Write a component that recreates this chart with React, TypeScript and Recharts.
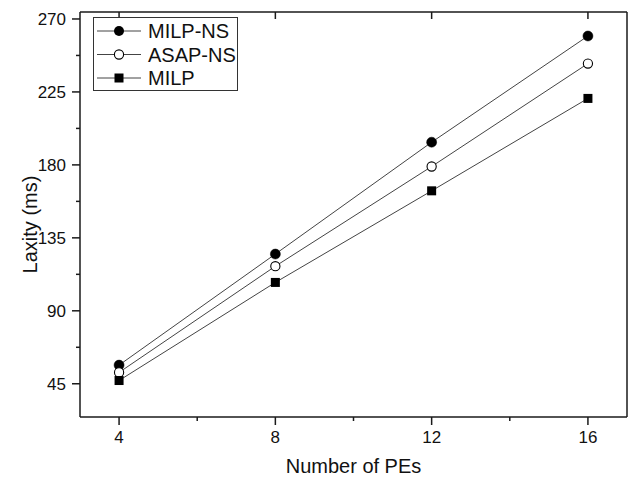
import React from "react";
import { LineChart, Line, XAxis, YAxis, Legend, Label } from "recharts";

const pes = [4, 8, 12, 16];
const milpNs = [56.5, 125, 194, 259.5];
const asapNs = [52, 117.5, 179, 242.5];
const milp = [47, 107.5, 164, 221];

const xTicks = [4, 6, 8, 10, 12, 14, 16];
const yTicks = [45, 67.5, 90, 112.5, 135, 157.5, 180, 202.5, 225, 247.5, 270];

const FONT = "Liberation Sans, Arial, sans-serif";
const AXIS = "#1a1a1a";
const TICK_SIZE = 8;
const TICK_MARGIN = 6;

const data = pes.map((pe, i) => ({
  pe,
  milpNs: milpNs[i],
  asapNs: asapNs[i],
  milp: milp[i],
}));

const YTick = (props: any) => {
  const { x, y, payload } = props;
  const axisX = x + TICK_SIZE + TICK_MARGIN;
  const major = payload.value % 45 === 0;
  return (
    <g>
      <line x1={axisX} x2={axisX - (major ? 8 : 4)} y1={y} y2={y} stroke={AXIS} strokeWidth={1.5} />
      {major && (
        <text x={x} y={y} dy="0.36em" textAnchor="end" fontSize={17} fontFamily={FONT} fill="#111">
          {payload.value}
        </text>
      )}
    </g>
  );
};

const XTick = (props: any) => {
  const { x, y, payload } = props;
  const axisY = y - TICK_SIZE - TICK_MARGIN;
  const major = payload.value % 4 === 0;
  return (
    <g>
      <line x1={x} x2={x} y1={axisY} y2={axisY + (major ? 8 : 4)} stroke={AXIS} strokeWidth={1.5} />
      {major && (
        <text x={x} y={y} dy="0.72em" textAnchor="middle" fontSize={17} fontFamily={FONT} fill="#111">
          {payload.value}
        </text>
      )}
    </g>
  );
};

const Square = (props: any) => {
  const { cx, cy, index } = props;
  return <rect key={`sq-${index}`} x={cx - 4.5} y={cy - 4.5} width={9} height={9} fill="#000" />;
};

const legendItems = [
  { name: "MILP-NS", kind: "filled" },
  { name: "ASAP-NS", kind: "open" },
  { name: "MILP", kind: "square" },
];

const LegendBox = () => (
  <svg width={145} height={74} style={{ display: "block" }}>
    <rect x={0.5} y={0.5} width={144} height={73} fill="#fff" stroke="#333" strokeWidth={1} />
    {legendItems.map((item, i) => {
      const cy = 14 + i * 23.5;
      return (
        <g key={item.name}>
          <line x1={4} x2={48} y1={cy} y2={cy} stroke="#444" strokeWidth={1} />
          {item.kind === "filled" && <circle cx={26} cy={cy} r={5} fill="#000" />}
          {item.kind === "open" && <circle cx={26} cy={cy} r={4.6} fill="#fff" stroke="#000" strokeWidth={1.1} />}
          {item.kind === "square" && <rect x={21.5} y={cy - 4.5} width={9} height={9} fill="#000" />}
          <text x={55} y={cy} dy="0.36em" fontSize={20} fontFamily={FONT} fill="#111">
            {item.name}
          </text>
        </g>
      );
    })}
  </svg>
);

export default function App() {
  return (
    <div style={{ position: "absolute", left: 0, top: 0, background: "#fff" }}>
      <LineChart width={628} height={477} data={data} margin={{ top: 12, right: 1, bottom: 0, left: 10 }}>
        <XAxis
          dataKey="pe"
          type="number"
          domain={[3, 17]}
          ticks={xTicks}
          height={60}
          stroke={AXIS}
          strokeWidth={1.5}
          tickLine={false}
          tickSize={TICK_SIZE}
          tickMargin={TICK_MARGIN}
          tick={<XTick />}
          interval={0}
        >
          <Label
            value="Number of PEs"
            position="insideBottom"
            offset={4}
            style={{ fontSize: 20, fontFamily: FONT, fill: "#111" }}
          />
        </XAxis>
        <XAxis
          xAxisId="top"
          dataKey="pe"
          type="number"
          orientation="top"
          domain={[3, 17]}
          ticks={[4, 8, 12, 16]}
          mirror
          height={20}
          stroke={AXIS}
          strokeWidth={1.5}
          tickSize={7}
          tickFormatter={() => ""}
          interval={0}
        />
        <YAxis
          type="number"
          domain={[24.5, 274.3]}
          ticks={yTicks}
          width={70}
          stroke={AXIS}
          strokeWidth={1.5}
          tickLine={false}
          tickSize={TICK_SIZE}
          tickMargin={TICK_MARGIN}
          tick={<YTick />}
          interval={0}
        >
          <Label
            value="Laxity (ms)"
            angle={-90}
            position="insideLeft"
            offset={20}
            dy={10}
            style={{ fontSize: 20, fontFamily: FONT, fill: "#111", textAnchor: "middle" }}
          />
        </YAxis>
        <YAxis
          yAxisId="right"
          type="number"
          orientation="right"
          domain={[24.5, 274.3]}
          ticks={[45, 90, 135, 180, 225, 270]}
          mirror
          width={20}
          stroke={AXIS}
          strokeWidth={1.5}
          tickSize={8}
          tickFormatter={() => ""}
          interval={0}
        />
        <Legend
          layout="vertical"
          align="center"
          verticalAlign="middle"
          content={() => <LegendBox />}
          wrapperStyle={{ left: 93, top: 17, width: 145, height: 74 }}
        />
        <Line
          type="linear"
          dataKey="milpNs"
          name="MILP-NS"
          stroke="#444"
          strokeWidth={1}
          dot={{ r: 5, fill: "#000", stroke: "#000", strokeWidth: 0.5 }}
          isAnimationActive={false}
        />
        <Line
          type="linear"
          dataKey="asapNs"
          name="ASAP-NS"
          stroke="#444"
          strokeWidth={1}
          dot={{ r: 4.6, fill: "#fff", stroke: "#000", strokeWidth: 1.1 }}
          isAnimationActive={false}
        />
        <Line
          type="linear"
          dataKey="milp"
          name="MILP"
          stroke="#444"
          strokeWidth={1}
          dot={<Square />}
          isAnimationActive={false}
        />
      </LineChart>
    </div>
  );
}
